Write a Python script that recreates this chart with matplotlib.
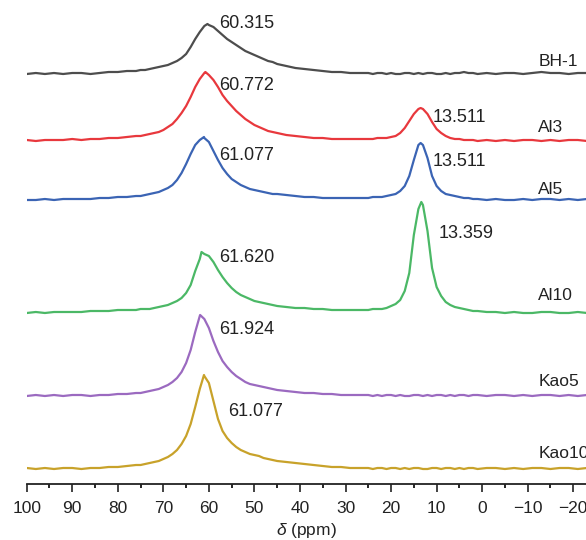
import numpy as np
import matplotlib.pyplot as plt
from matplotlib.ticker import MultipleLocator

plt.rcParams['font.family'] = ['Liberation Sans', 'DejaVu Sans']
plt.rcParams['mathtext.fontset'] = 'custom'
plt.rcParams['mathtext.it'] = 'Liberation Sans:italic'

# chemical shift grid (ppm), coarse on the flat parts, 1 ppm around the peaks
ppm = np.concatenate([np.arange(100, 75, -2), np.arange(75, 44, -1),
                      np.arange(43, 26, -2), np.arange(25, 0, -1),
                      np.arange(-1, -24, -2)]).astype(float)

names = ['BH-1', 'Al3', 'Al5', 'Al10', 'Kao5', 'Kao10']
colors = ['#4d4d4d', '#e8383d', '#3b64b4', '#4bb866', '#9b6ac0', '#c8a22a']
offsets = [410, 343, 284, 171, 88, 15]

bh1 = ([0, 1, 0, 1, 0, 1, 1, 0, 1, 2, 2, 3, 3] +
       [4, 4, 5, 6, 7, 8, 9, 11, 13, 16, 20, 27, 35, 42, 48, 49, 47, 43, 39, 35,
        32, 29, 26, 23, 21, 19, 17, 15, 13, 12, 10] +
       [8, 6, 5, 4, 3, 2, 2, 1, 1] +
       [1, 0, 1, 1, 0, 1, 0, 0, 1, 1, 0, 1, 0, 1, 1, 0, 0, 1, 0, 1, 1, 2, 1, 1, 0] +
       [1, 0, 1, 1, 0, 1, 2, 1, 1, 0, 1, 1])
al3 = ([1, 0, 1, 1, 1, 2, 1, 2, 2, 3, 3, 4, 5] +
       [5, 6, 7, 8, 9, 11, 14, 17, 22, 28, 35, 44, 54, 62, 68, 66, 61, 54, 46, 40,
        35, 30, 26, 22, 19, 16, 14, 12, 10, 9, 8] +
       [6, 5, 4, 3, 3, 2, 2, 2, 2] +
       [2, 2, 3, 3, 3, 4, 5, 8, 13, 20, 27, 32, 32, 27, 19, 12, 8, 5, 3, 2, 2, 1, 1, 1, 0] +
       [1, 0, 1, 0, 1, 1, 0, 1, 0, 1, 1, 0])
al5 = ([0, 0, 1, 0, 1, 1, 1, 1, 2, 2, 3, 3, 4] +
       [4, 5, 6, 7, 8, 10, 12, 15, 20, 27, 36, 46, 55, 60, 62, 58, 49, 40, 32, 26,
        21, 18, 15, 13, 11, 10, 9, 8, 7, 6, 6] +
       [5, 4, 3, 3, 2, 2, 2, 2, 2] +
       [2, 3, 3, 3, 4, 5, 6, 9, 14, 24, 40, 55, 55, 42, 24, 14, 9, 6, 5, 4, 3, 2, 2, 1, 1] +
       [0, 1, 0, 0, 1, 0, 1, 1, 0, 1, 0, 1])
al10 = ([0, 1, 0, 1, 1, 1, 1, 2, 2, 2, 3, 3, 3] +
        [4, 4, 4, 5, 6, 7, 8, 10, 12, 15, 20, 28, 42, 54, 59, 57, 51, 43, 36, 30,
         25, 21, 18, 16, 14, 12, 11, 10, 9, 8, 7] +
        [6, 5, 5, 4, 4, 3, 3, 3, 3] +
        [3, 4, 4, 4, 5, 7, 9, 13, 22, 40, 78, 104, 108, 82, 45, 26, 17, 11, 8, 6, 5, 4, 3, 2, 2] +
        [1, 1, 0, 1, 0, 0, 1, 1, 0, 0, 1, 0])
kao5 = ([0, 1, 0, 1, 0, 1, 1, 0, 1, 1, 2, 2, 3] +
        [3, 4, 5, 6, 7, 9, 11, 14, 18, 24, 33, 46, 64, 80, 77, 68, 55, 44, 35, 29,
         24, 20, 17, 14, 12, 11, 10, 9, 8, 7, 6] +
        [5, 4, 3, 3, 2, 2, 1, 1, 1] +
        [1, 0, 1, 0, 1, 1, 0, 1, 0, 0, 1, 1, 0, 1, 0, 1, 1, 0, 1, 0, 1, 1, 0, 1, 1] +
        [0, 1, 1, 0, 1, 0, 1, 1, 0, 1, 0, 1])
kao10 = ([1, 0, 1, 0, 1, 1, 0, 1, 1, 2, 2, 3, 4] +
         [4, 5, 6, 7, 8, 10, 12, 15, 19, 25, 33, 45, 62, 80, 93, 86, 68, 50, 38, 31,
          26, 22, 19, 17, 15, 14, 13, 11, 10, 9, 8] +
         [7, 6, 5, 4, 3, 2, 2, 1, 1] +
         [1, 0, 1, 1, 0, 1, 1, 0, 1, 0, 1, 1, 0, 0, 1, 1, 0, 1, 1, 0, 1, 0, 1, 1, 0] +
         [1, 1, 0, 1, 0, 1, 1, 0, 1, 1, 0, 1])
spectra = [bh1, al3, al5, al10, kao5, kao10]

# labelled peak maxima: (shift, intensity)
peaks = [[(60.315, 50)],
         [(60.772, 69), (13.511, 33)],
         [(61.077, 63), (13.511, 57)],
         [(61.620, 61), (13.359, 111)],
         [(61.924, 81)],
         [(61.077, 94)]]

# where the peak labels sit (ppm, height)
peak_text_pos = [[(57.7, 460)],
                 [(57.7, 398), (10.8, 366)],
                 [(57.7, 328), (10.8, 322)],
                 [(57.7, 226), (9.5, 251)],
                 [(57.7, 154)],
                 [(55.8, 72)]]
name_pos = [422, 357, 294, 189, 102, 31]

fig = plt.figure(figsize=(5.86, 5.40), dpi=100)
ax = fig.add_axes([26.7 / 586, 56 / 540, 1 - 26.7 / 586, 484 / 540])

for i, name in enumerate(names):
    x = np.concatenate([ppm, [p[0] for p in peaks[i]]])
    y = np.concatenate([np.array(spectra[i], float), [p[1] for p in peaks[i]]])
    order = np.argsort(-x)
    ax.plot(x[order], y[order] + offsets[i], color=colors[i], lw=1.6,
            solid_joinstyle='round')
    for (pk, h), (tx, ty) in zip(peaks[i], peak_text_pos[i]):
        ax.text(tx, ty, '%.3f' % pk, fontsize=13, ha='left', va='center',
                color='#222222')
    ax.text(-12.3, name_pos[i], name, fontsize=12.5, ha='left', va='center',
            color='#222222')

ax.set_xlim(100, -22.8)
ax.set_ylim(0, 484)
ax.xaxis.set_major_locator(MultipleLocator(10))
ax.xaxis.set_minor_locator(MultipleLocator(5))
ax.tick_params(axis='x', which='major', direction='out', length=6, width=1.2,
               labelsize=12.5, pad=6, colors='#222222')
ax.tick_params(axis='x', which='minor', direction='out', length=3, width=1.2)
ax.set_yticks([])
for side in ['left', 'top', 'right']:
    ax.spines[side].set_visible(False)
ax.spines['bottom'].set_linewidth(1.3)
ax.spines['bottom'].set_color('#222222')
ax.set_xlabel(r'$\mathit{\delta}$ (ppm)', fontsize=12.5, labelpad=4, color='#222222')

fig.savefig('out.png', dpi=100)
